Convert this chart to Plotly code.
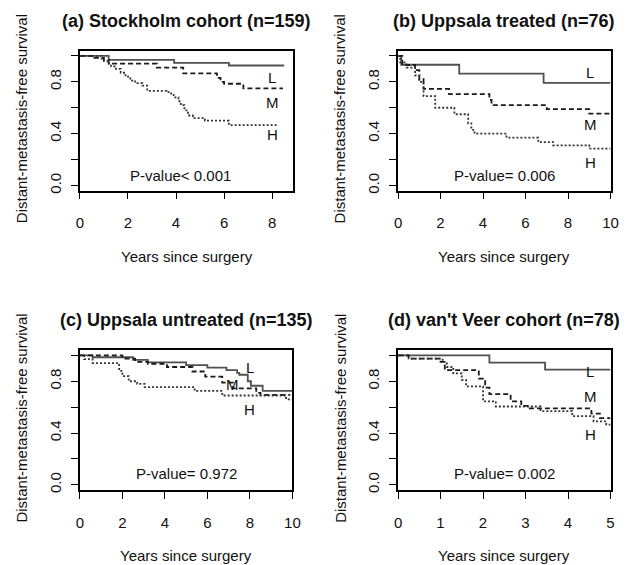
import plotly.graph_objects as go

# ---------------- data ----------------
# (a) Stockholm cohort
a_L_t = [0, 1.2, 3.92, 6.2]
a_L_s = [1.0, 0.970, 0.947, 0.926]
a_L_end = 8.5
a_M_t = [0, 0.6, 1.0, 1.2, 3.2, 4.3, 5.7, 5.85, 6.0, 6.8]
a_M_s = [1.0, 0.985, 0.97, 0.94, 0.91, 0.865, 0.83, 0.80, 0.785, 0.75]
a_M_end = 8.45
a_H_t = [0, 0.9, 1.0, 1.15, 1.3, 1.5, 1.7, 1.9, 2.1, 2.3, 2.6, 2.8, 3.6, 3.8, 3.9,
         4.1, 4.2, 4.35, 4.5, 4.7, 5.2, 6.2]
a_H_s = [1.0, 0.98, 0.96, 0.94, 0.92, 0.90, 0.87, 0.84, 0.81, 0.79, 0.77, 0.73, 0.72,
         0.70, 0.68, 0.65, 0.62, 0.58, 0.54, 0.52, 0.50, 0.466]
a_H_end = 8.27

# (b) Uppsala treated
b_L_t = [0, 0.15, 2.88, 6.85]
b_L_s = [1.0, 0.932, 0.863, 0.792]
b_L_end = 10
b_M_t = [0, 0.2, 0.8, 1.0, 1.2, 2.4, 4.3, 4.4, 7.0, 9.0]
b_M_s = [1.0, 0.93, 0.89, 0.82, 0.745, 0.705, 0.66, 0.62, 0.59, 0.555]
b_M_end = 10
b_H_t = [0, 0.1, 0.4, 0.8, 1.0, 1.2, 1.75, 2.65, 3.3, 3.45, 3.6, 5.1, 6.6, 7.3, 9.0]
b_H_s = [1.0, 0.95, 0.91, 0.85, 0.80, 0.69, 0.60, 0.55, 0.48, 0.43, 0.40, 0.37,
         0.335, 0.31, 0.285]
b_H_end = 10

# (c) Uppsala untreated
c_L_t = [0, 0.6, 2.5, 3.2, 5.0, 6.0, 6.9, 7.4, 7.5, 7.9, 8.05, 8.6]
c_L_s = [1.0, 0.985, 0.965, 0.945, 0.925, 0.905, 0.885, 0.865, 0.85, 0.80, 0.765, 0.725]
c_L_end = 10
c_M_t = [0, 2.0, 2.6, 3.2, 4.1, 5.3, 5.9, 6.7, 7.2, 8.3, 8.5]
c_M_s = [1.0, 0.975, 0.95, 0.935, 0.91, 0.875, 0.835, 0.79, 0.745, 0.71, 0.695]
c_M_end = 9.9
c_H_t = [0, 0.2, 0.6, 1.85, 2.0, 2.3, 2.7, 3.05, 5.4, 6.7, 9.7]
c_H_s = [1.0, 0.97, 0.94, 0.88, 0.84, 0.80, 0.78, 0.755, 0.725, 0.69, 0.66]
c_H_end = 10

# (d) van't Veer cohort
d_L_t = [0, 2.15, 3.46]
d_L_s = [1.0, 0.944, 0.89]
d_L_end = 5
d_M_t = [0, 0.25, 1.0, 1.1, 1.9, 2.05, 2.15, 2.65, 2.9, 3.1, 4.55, 4.75]
d_M_s = [1.0, 0.975, 0.95, 0.885, 0.82, 0.75, 0.70, 0.645, 0.61, 0.59, 0.55, 0.515]
d_M_end = 5
d_H_t = [0, 0.25, 1.05, 1.15, 1.3, 1.5, 1.6, 2.0, 2.3, 3.35, 4.1, 4.6, 4.9]
d_H_s = [1.0, 0.975, 0.95, 0.91, 0.86, 0.81, 0.76, 0.645, 0.605, 0.57, 0.53, 0.49, 0.465]
d_H_end = 5

titles = ["(a) Stockholm cohort (n=159)", "(b) Uppsala treated (n=76)",
          "(c) Uppsala untreated (n=135)", "(d) van't Veer cohort (n=78)"]
pvalues = ["P-value< 0.001", "P-value= 0.006", "P-value= 0.972", "P-value= 0.002"]
x_ticks = [[0, 2, 4, 6, 8], [0, 2, 4, 6, 8, 10], [0, 2, 4, 6, 8, 10], [0, 1, 2, 3, 4, 5]]
x_max = [8.88, 10, 10, 5]
y_ticks = [0, 0.2, 0.4, 0.6, 0.8, 1.0]
y_ticktext = ["0.0", "", "0.4", "", "0.8", ""]
group_names = ["L", "M", "H"]

panels = [
    [(a_L_t, a_L_s, a_L_end), (a_M_t, a_M_s, a_M_end), (a_H_t, a_H_s, a_H_end)],
    [(b_L_t, b_L_s, b_L_end), (b_M_t, b_M_s, b_M_end), (b_H_t, b_H_s, b_H_end)],
    [(c_L_t, c_L_s, c_L_end), (c_M_t, c_M_s, c_M_end), (c_H_t, c_H_s, c_H_end)],
    [(d_L_t, d_L_s, d_L_end), (d_M_t, d_M_s, d_M_end), (d_H_t, d_H_s, d_H_end)],
]

# ---------------- layout / styling ----------------
W, H = 630, 565
FONT = "Liberation Sans, Arial, Helvetica, sans-serif"
# plot boxes in pixels: (left, right, top, bottom)
boxes = [(77.3, 295.0, 51.0, 191.7), (401.7, 618.3, 51.0, 191.7),
         (77.3, 294.0, 352.0, 492.7), (401.7, 618.3, 352.0, 492.7)]
line_styles = [dict(color="#505050", width=1.8, dash="solid"),
               dict(color="#1a1a1a", width=1.8, dash="5px,3px"),
               dict(color="#333333", width=1.8, dash="2px,2px")]
# label positions (data coords) for L, M, H in each panel
label_pos = [[(8.0, 0.83), (8.0, 0.64), (8.0, 0.39)],
             [(9.05, 0.873), (9.05, 0.47), (9.05, 0.177)],
             [(8.0, 0.906), (7.2, 0.777), (8.0, 0.582)],
             [(4.52, 0.878), (4.52, 0.683), (4.52, 0.392)]]
pval_y = [0.076, 0.076, 0.089, 0.089]

fig = go.Figure()
annotations = []
for i, (series, box) in enumerate(zip(panels, boxes)):
    xa = "x" if i == 0 else f"x{i+1}"
    ya = "y" if i == 0 else f"y{i+1}"
    for (t, s, end), style, name in zip(series, line_styles, group_names):
        fig.add_trace(go.Scatter(x=list(t) + [end], y=list(s) + [s[-1]], mode="lines",
                                 line=dict(shape="hv", **style), name=name,
                                 xaxis=xa, yaxis=ya, showlegend=False))
    l, r, tp, bt = box
    ax_common = dict(showline=True, mirror=True, linecolor="black", linewidth=1.5,
                     ticks="outside", ticklen=7, tickwidth=1, tickcolor="black",
                     showgrid=False, zeroline=False,
                     tickfont=dict(family=FONT, size=15, color="#111"))
    fig.update_layout(**{
        ("xaxis" if i == 0 else f"xaxis{i+1}"): dict(
            domain=[l / W, r / W], anchor=ya, range=[0, x_max[i]],
            tickvals=x_ticks[i], ticklabelstandoff=11, **ax_common),
        ("yaxis" if i == 0 else f"yaxis{i+1}"): dict(
            domain=[1 - bt / H, 1 - tp / H], anchor=xa, range=[-0.04, 1.04],
            tickvals=y_ticks, ticktext=y_ticktext, tickangle=-90,
            ticklabelstandoff=4, **ax_common),
    })
    cx = (l + r) / 2
    cy = (tp + bt) / 2
    # panel title
    annotations.append(dict(text=f"<b>{titles[i]}</b>", x=cx / W, y=1 - (tp - 30) / H,
                            xref="paper", yref="paper", showarrow=False,
                            xanchor="center", yanchor="middle",
                            font=dict(family=FONT, size=18, color="#111")))
    # x axis title
    annotations.append(dict(text="Years since surgery", x=cx / W, y=1 - (bt + 66) / H,
                            xref="paper", yref="paper", showarrow=False,
                            xanchor="center", yanchor="middle",
                            font=dict(family=FONT, size=15, color="#111")))
    # y axis title
    annotations.append(dict(text="Distant-metastasis-free survival", x=(l - 59.5) / W,
                            y=1 - (cy - 2) / H, xref="paper", yref="paper",
                            showarrow=False, textangle=-90,
                            xanchor="center", yanchor="middle",
                            font=dict(family=FONT, size=15, color="#111")))
    # group labels
    for (lx, ly), name in zip(label_pos[i], group_names):
        annotations.append(dict(text=name, x=lx, y=ly, xref=xa, yref=ya,
                                showarrow=False, xanchor="center", yanchor="middle",
                                font=dict(family=FONT, size=15, color="#111")))
    # p-value
    annotations.append(dict(text=pvalues[i], x=x_max[i] / 2 if i != 0 else 4.19,
                            y=pval_y[i], xref=xa, yref=ya, showarrow=False,
                            xanchor="center", yanchor="middle",
                            font=dict(family=FONT, size=15, color="#111")))

fig.update_layout(width=W, height=H, margin=dict(l=0, r=0, t=0, b=0),
                  paper_bgcolor="white", plot_bgcolor="white",
                  annotations=annotations, showlegend=False)

fig.write_html("out.html", config={"displayModeBar": False},
               post_script="document.body.style.margin='0px';"
                           "document.body.style.overflow='hidden';")
